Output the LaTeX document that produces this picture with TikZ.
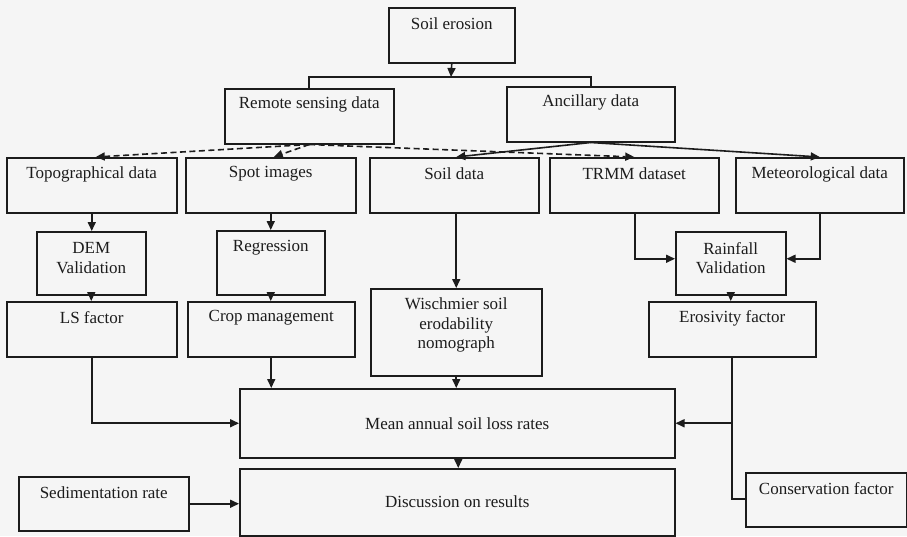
\documentclass[tikz,border=0pt]{standalone}
\usepackage{fontspec}
\setmainfont{Liberation Serif}
\usetikzlibrary{arrows.meta}
\definecolor{bgc}{RGB}{245,245,245}
\definecolor{ink}{RGB}{28,28,28}
\tikzset{
  bx/.style={draw=ink, line width=1.5pt, inner sep=0pt, anchor=north west},
  txt/.style={font=\fontsize{17}{19.5}\selectfont, text=ink, align=center, inner sep=0pt},
  con/.style={draw=ink, line width=1.6pt},
  arr/.style={con, -{Triangle[length=9pt,width=8pt]}},
  darr/.style={arr, dash pattern=on 6pt off 3.5pt}
}
\newcommand{\bxat}[5]{\node[bx, minimum width=#4pt, minimum height=#5pt] (#1) at (#2,#3) {};}
\begin{document}
\begin{tikzpicture}[x=1pt,y=-1pt]
\fill[bgc] (0,0) rectangle (907,536);
\useasboundingbox (0,0) rectangle (907,536);
% boxes
\bxat{se}{388}{7}{126}{55}
\bxat{rs}{224}{88}{169}{55}
\bxat{anc}{506}{86}{168}{55}
\bxat{topo}{6}{157}{170}{55}
\bxat{spot}{185}{157}{170}{55}
\bxat{soil}{369}{157}{169}{55}
\bxat{trmm}{549}{157}{169}{55}
\bxat{met}{735}{157}{168}{55}
\bxat{dem}{36}{231}{109}{63}
\bxat{reg}{216}{230}{108}{64}
\bxat{rain}{675}{231}{110}{63}
\bxat{ls}{6}{301}{170}{55}
\bxat{crop}{187}{301}{167}{55}
\bxat{wis}{370}{288}{171}{87}
\bxat{ero}{648}{301}{167}{55}
\bxat{mean}{239}{388}{435}{69}
\bxat{disc}{239}{468}{435}{67}
\bxat{sed}{18}{476}{170}{54}
\bxat{cons}{745}{472}{161}{54}
% texts
\node[txt] (se-t) at ([yshift=-17pt]se.north) {Soil erosion};
\node[txt] (rs-t) at ([yshift=-16pt]rs.north) {Remote sensing data};
\node[txt] (anc-t) at ([yshift=-16pt]anc.north) {Ancillary data};
\node[txt] (topo-t) at ([yshift=-17pt]topo.north) {Topographical data};
\node[txt] (spot-t) at ([yshift=-17pt]spot.north) {Spot images};
\node[txt] (soil-t) at ([yshift=-17pt]soil.north) {Soil data};
\node[txt] (trmm-t) at ([yshift=-17pt]trmm.north) {TRMM dataset};
\node[txt] (met-t) at ([yshift=-17pt]met.north) {Meteorological data};
\node[txt] (dem-t) at ([yshift=-27pt]dem.north) {DEM\\Validation};
\node[txt] (reg-t) at ([yshift=-18pt]reg.north) {Regression};
\node[txt] (rain-t) at ([yshift=-27pt]rain.north) {Rainfall\\Validation};
\node[txt] (ls-t) at ([yshift=-17pt]ls.north) {LS factor};
\node[txt] (crop-t) at ([yshift=-17pt]crop.north) {Crop management};
\node[txt] (wis-t) at ([yshift=-37pt]wis.north) {Wischmier soil\\erodability\\nomograph};
\node[txt] (ero-t) at ([yshift=-17pt]ero.north) {Erosivity factor};
\node[txt] (mean-t) at (mean.center) {Mean annual soil loss rates};
\node[txt] (disc-t) at ([yshift=-34pt]disc.north) {Discussion on results};
\node[txt] (sed-t) at ([yshift=-17pt]sed.north) {Sedimentation rate};
\node[txt] (cons-t) at ([yshift=-17pt]cons.north) {Conservation factor};
% top split
\coordinate (split) at (451,77);
\draw[arr] (se.south) -- (split);
\draw[con] (rs.north) |- (split) -| (anc.north);
% remote sensing (dashed)
\draw[darr] (rs.south) -- ([xshift=4pt]topo.north);
\draw[darr] (rs.south) -- ([xshift=3pt]spot.north);
\draw[darr] (rs.south) -- (trmm.north);
% ancillary (solid)
\draw[arr] (anc.south) -- ([xshift=2pt]soil.north);
\draw[arr] (anc.south) -- (met.north);
% columns
\draw[arr] (topo.south) -- (topo.south |- dem.north);
\draw[arr] (dem.south) -- (dem.south |- ls.north);
\draw[arr] (spot.south) -- (spot.south |- reg.north);
\draw[arr] (reg.south) -- (reg.south |- crop.north);
\draw[arr] ([xshift=2pt]soil.south) -- ([xshift=2pt]soil.south |- wis.north);
\draw[arr] ([xshift=1pt]trmm.south) |- ([yshift=4.5pt]rain.west);
\draw[arr] (met.south) |- ([yshift=4.5pt]rain.east);
\draw[arr] (rain.south) -- (rain.south |- ero.north);
% into mean
\draw[arr] (ls.south) |- (mean.west);
\draw[arr] (crop.south) -- (crop.south |- mean.north);
\draw[arr] (wis.south) -- (wis.south |- mean.north);
\coordinate (joinR) at (ero.south |- mean.east);
\draw[arr] (ero.south) -- (joinR) -- (mean.east);
\draw[con] (cons.west |- 0,499) -| (joinR);
% bottom
\draw[arr] ([xshift=1pt]mean.south) -- ([xshift=1pt]mean.south |- disc.north);
\draw[arr] (sed.east) -- (sed.east -| disc.west);
\end{tikzpicture}
\end{document}
